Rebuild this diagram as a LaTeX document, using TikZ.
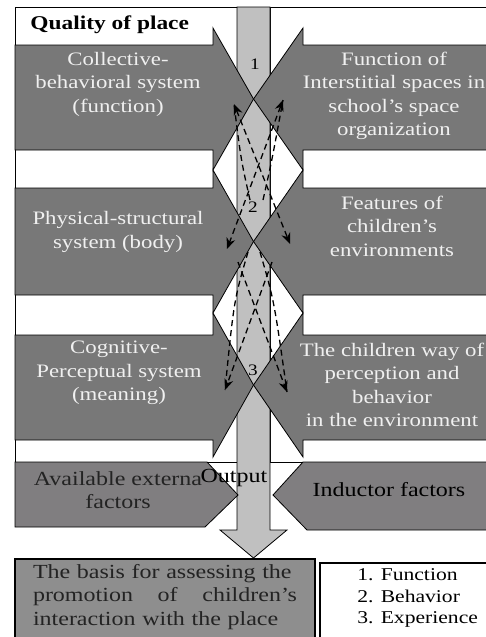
\documentclass[tikz,border=0pt]{standalone}
\usepackage{fontspec}
\setmainfont{Liberation Serif}[FakeStretch=1.2]
\usetikzlibrary{arrows.meta}

\definecolor{arrowgray}{RGB}{120,120,120}
\definecolor{factgray}{RGB}{128,126,128}
\definecolor{stripgray}{RGB}{192,192,192}
\definecolor{basisgray}{RGB}{142,142,142}
\definecolor{softwhite}{RGB}{240,240,240}
\definecolor{darktext}{RGB}{35,35,35}

\begin{document}
\begin{tikzpicture}[
    x=1pt, y=-1pt,
    line width=0.8pt,
    >={Stealth[length=11pt,width=9pt]},
    panel/.style = {draw, fill=white},
    sysarrow/.style = {draw, fill=arrowgray},
    factarrow/.style = {draw, fill=factgray},
    systext/.style = {
      align=center,
      text=softwhite,
      inner sep=0pt,
      font=\fontsize{19}{23.5}\selectfont
    },
    facttext/.style = {
      align=center,
      text=darktext,
      inner sep=0pt,
      font=\fontsize{20}{23.5}\selectfont
    },
    numlabel/.style = {inner sep=0pt, font=\fontsize{16}{16}\selectfont},
    dasharr/.style = {dash pattern=on 6pt off 4pt, line width=1.3pt}
  ]
  \useasboundingbox (0,0) rectangle (485,637);

  \draw[panel] (15,7) rectangle (237,462);
  \draw[panel] (270,7) rectangle (495,462);

  \draw[fill=stripgray] (237,7) -- (270,7) -- (270,530) -- (287,530) -- (253.5,558) -- (220,530) -- (237,530) -- cycle;

  \draw[sysarrow] (15,45) -- (213,45) -- (213,28) -- (253.5,99) -- (213,170) -- (213,150) -- (15,150) -- cycle;
  \draw[sysarrow] (495,45) -- (303,45) -- (303,28) -- (253.5,99) -- (303,170) -- (303,150) -- (495,150) -- cycle;
  \draw[sysarrow] (15,188) -- (213,188) -- (213,170) -- (253.5,241.5) -- (213,313) -- (213,295) -- (15,295) -- cycle;
  \draw[sysarrow] (495,188) -- (303,188) -- (303,170) -- (253.5,241.5) -- (303,313) -- (303,295) -- (495,295) -- cycle;
  \draw[sysarrow] (15,335) -- (213,335) -- (213,313) -- (253.5,385) -- (213,457) -- (213,440) -- (15,440) -- cycle;
  \draw[sysarrow] (495,335) -- (303,335) -- (303,313) -- (253.5,385) -- (303,457) -- (303,440) -- (495,440) -- cycle;

  \draw[factarrow] (15,462) -- (207,462) -- (238,495) -- (205,527) -- (15,527) -- cycle;
  \draw[factarrow] (495,462) -- (303,462) -- (273,495) -- (307,530) -- (495,530) -- cycle;

  \draw[fill=basisgray, line width=1.4pt] (15,559) rectangle (315,645);
  \draw[fill=white, line width=1.4pt] (320,563) rectangle (495,645);

  \coordinate (ul) at (234,104);
  \coordinate (ur) at (283,100);
  \coordinate (ml) at (227,249);
  \coordinate (mr) at (290,244);
  \coordinate (bl) at (225,390);
  \coordinate (br) at (287,392);
  \coordinate (tl) at (250,200);
  \coordinate (tr) at (263,200);
  \coordinate (cl) at (248,252);
  \coordinate (cr) at (260,252);
  \coordinate (xl) at (238,262);
  \coordinate (xr) at (272,262);

  \draw[dasharr,<->] (ul) -- (mr);
  \draw[dasharr,<->] (ur) -- (ml);
  \draw[dasharr] (tl) .. controls (241,160) .. (ul);
  \draw[dasharr] (tr) .. controls (272,160) .. (ur);
  \draw[dasharr,->] (xr) -- (bl);
  \draw[dasharr,->] (xl) -- (br);
  \draw[dasharr] (cl) .. controls (234,300) .. (bl);
  \draw[dasharr] (cr) .. controls (274,300) .. (br);

  \node[anchor=west, inner sep=0pt, font=\fontsize{19.5}{20}\selectfont\bfseries] (quality) at (30,25) {Quality of place};

  \node[numlabel] (one) at (255,64) {1};
  \node[numlabel] (two) at (253,207) {2};
  \node[numlabel] (three) at (253,370) {3};

  \node[systext] (collective) at (118,84) {Collective-\\behavioral system\\(function)};
  \node[systext] (interstitial) at (394,96) {Function of\\Interstitial spaces in\\school's space\\organization};
  \node[systext] (physical) at (118,232) {Physical-structural\\system (body)};
  \node[systext] (features) at (392,226) {Features of\\children's\\environments};
  \node[systext] (cognitive) at (119,373) {Cognitive-\\Perceptual system\\(meaning)};
  \node[systext] (wayof) at (392,385) {The children way of\\perception and\\behavior\\in the environment};

  \node[facttext] (available) at (118,490) {Available externa\\factors};
  \node[facttext, text=black] (output) at (234,478) {Output};
  \node[facttext, text=black] (inductor) at (389,490) {Inductor factors};

  \node[facttext, align=left, text width=264pt] (basis) at (165,597) {The basis for assessing the\\promotion\hfill of\hfill children's\\interaction with the place};
  \node[anchor=west, align=left, inner sep=0pt, font=\fontsize{18}{21.5}\selectfont] (levels) at (357,598) {1. Function\\2. Behavior\\3. Experience};
\end{tikzpicture}
\end{document}
